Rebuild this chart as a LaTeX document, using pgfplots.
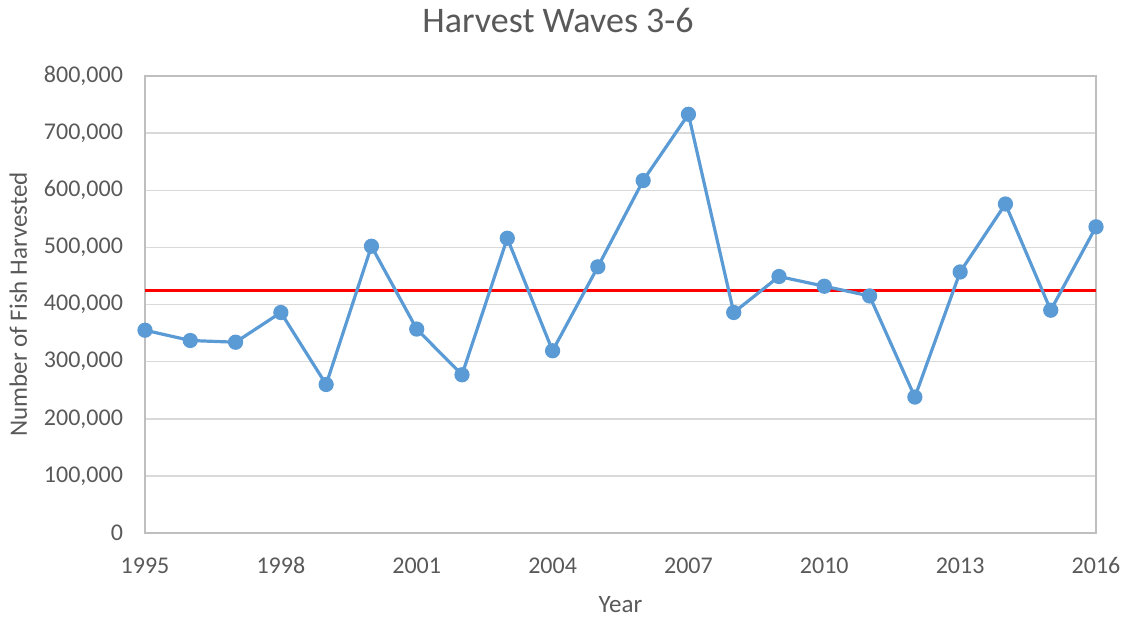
\documentclass[border=0pt]{standalone}
\usepackage{fontspec}
\setmainfont{Carlito}
\usepackage{pgfplots}
\pgfplotsset{compat=1.18}
\definecolor{serblue}{HTML}{5B9BD5}
\definecolor{txtgray}{HTML}{595959}
\definecolor{gridgray}{HTML}{D9D9D9}
\definecolor{axgray}{HTML}{BFBFBF}
\begin{document}
\begin{tikzpicture}
\useasboundingbox (-72.5pt,-44pt) rectangle (491pt,266.5pt);
\begin{axis}[
  scale only axis,
  width=475.5pt, height=228.5pt,
  xmin=1995, xmax=2016, ymin=0, ymax=800000,
  xtick={1995,1998,2001,2004,2007,2010,2013,2016},
  ytick={0,100000,200000,300000,400000,500000,600000,700000,800000},
  scaled y ticks=false,
  /pgf/number format/assume math mode=true,
  xticklabel style={/pgf/number format/1000 sep={}, anchor=base, yshift=-20pt},
  yticklabel style={/pgf/number format/fixed, /pgf/number format/1000 sep={,}, xshift=-7.5pt},
  tick label style={font=\fontsize{12}{14}\selectfont, text=txtgray},
  major tick length=0pt,
  ymajorgrids,
  major grid style={color=gridgray, line width=0.75pt},
  axis line style={color=axgray, line width=1pt},
  clip=false,
  title={Harvest Waves 3-6},
  title style={at={(axis description cs:0.4343,1.0700)}, anchor=base, font=\fontsize{18}{21}\selectfont, text=txtgray},
  xlabel={Year},
  xlabel style={at={(axis description cs:0.5,-0.1729)}, anchor=base, font=\fontsize{12.5}{15}\selectfont, text=txtgray},
  ylabel={Number of Fish Harvested},
  ylabel style={at={(axis description cs:-0.1241,0.5)}, anchor=base, rotate=0, font=\fontsize{12.5}{15}\selectfont, text=txtgray},
]
\addplot[color=red, line width=1.6pt] coordinates {(1995,425000) (2016,425000)};
\addplot[color=serblue, line width=1.6pt, mark=*, mark size=3pt, mark options={fill=serblue, draw=serblue}] coordinates {
(1995,355000) (1996,337000) (1997,334000) (1998,386000) (1999,260000)
(2000,502000) (2001,357000) (2002,277000) (2003,516000) (2004,319000)
(2005,466000) (2006,617000) (2007,733000) (2008,386000) (2009,449000)
(2010,432000) (2011,415000) (2012,238000) (2013,457000) (2014,576000)
(2015,390000) (2016,536000)
};
\end{axis}
\end{tikzpicture}
\end{document}
